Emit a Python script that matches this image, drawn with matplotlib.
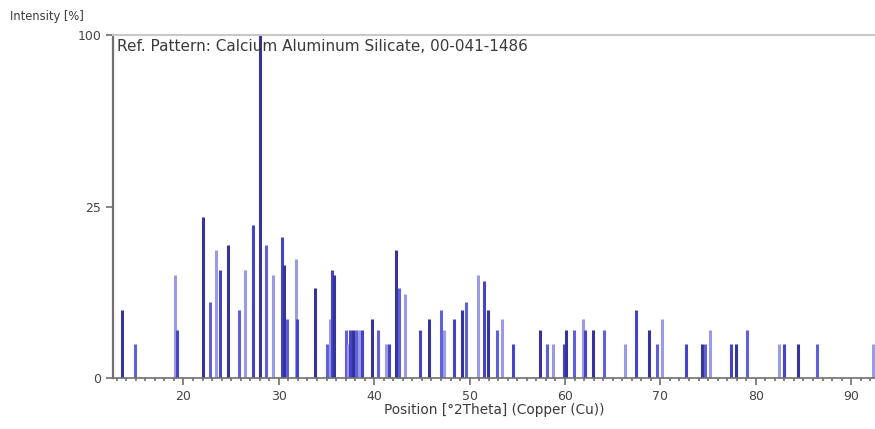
import numpy as np
import matplotlib
matplotlib.use('Agg')
import matplotlib.pyplot as plt
from matplotlib.ticker import FixedLocator, MultipleLocator

# stick pattern: position (deg 2Theta) and relative intensity (%)
two_theta = [13.57, 14.93, 19.11, 19.32, 22.0, 22.77, 23.4, 23.82, 24.72, 25.84,
             26.46, 27.34, 28.0, 28.66, 29.43, 30.3, 30.54, 30.9, 31.76, 31.94,
             33.75, 35.0, 35.35, 35.6, 35.77, 36.99, 37.25, 37.5, 37.8, 38.1,
             38.4, 38.7, 39.78, 40.37, 41.25, 41.6, 42.32, 42.57, 43.2, 44.76,
             45.7, 46.95, 47.27, 48.39, 49.19, 49.64, 50.93, 51.56, 51.97, 52.85,
             53.37, 54.59, 57.38, 58.14, 58.77, 59.89, 60.1, 60.97, 61.84, 62.12,
             62.95, 64.07, 66.34, 67.42, 68.78, 69.65, 70.17, 72.72, 74.4, 74.7,
             75.23, 77.42, 77.95, 79.1, 82.4, 83.0, 84.46, 86.37, 92.3]
intensity = [4, 1, 9, 2, 22, 5, 14, 10, 15, 4,
             10, 20, 100, 15, 9, 17, 11, 3, 12, 3,
             7, 1, 3, 10, 9, 2, 1, 2, 2, 2,
             2, 2, 3, 2, 1, 1, 14, 7, 6, 2,
             3, 4, 2, 3, 4, 5, 9, 8, 4, 2,
             3, 1, 2, 1, 1, 1, 2, 2, 3, 2,
             2, 2, 1, 4, 2, 1, 3, 1, 1, 1,
             2, 1, 1, 2, 1, 1, 1, 1, 1]

x_ticks = [20, 30, 40, 50, 60, 70, 80, 90]
y_ticks = [0, 25, 100]
title_text = 'Ref. Pattern: Calcium Aluminum Silicate, 00-041-1486'

shades = ['#34349c', '#6060d8', '#9a9ae6', '#4444c4']

fig = plt.figure(figsize=(8.75, 4.29), dpi=100)
ax = fig.add_axes([0.129, 0.118, 0.871, 0.800])

# intensity axis is square-root scaled
ax.set_yscale('function', functions=(np.sqrt, np.square))
for i in range(len(two_theta)):
    ax.vlines(two_theta[i], 0, intensity[i], color=shades[i % len(shades)], lw=2.2)

ax.set_xlim(12.6, 92.5)
ax.set_ylim(0, 100)
ax.yaxis.set_major_locator(FixedLocator(y_ticks))
ax.yaxis.set_minor_locator(FixedLocator([]))
ax.xaxis.set_major_locator(FixedLocator(x_ticks))
ax.xaxis.set_minor_locator(MultipleLocator(1))

ax.spines['right'].set_visible(False)
ax.spines['top'].set_color('#c8c8c8')
ax.spines['top'].set_linewidth(1.5)
ax.spines['left'].set_color('#707070')
ax.spines['left'].set_linewidth(1.6)
ax.spines['bottom'].set_color('#707070')
ax.spines['bottom'].set_linewidth(1.2)

ax.tick_params(axis='both', which='major', labelsize=9, colors='#707070',
               labelcolor='#444444', length=5, width=1.2)
ax.tick_params(axis='x', which='minor', length=2, width=1.2, colors='#707070')

ax.text(0.006, 0.988, title_text, transform=ax.transAxes, ha='left', va='top',
        fontsize=11, color='#3a3a3a')
fig.text(0.012, 0.962, 'Intensity [%]', ha='left', va='center', fontsize=8.3, color='#3a3a3a')
ax.set_xlabel('Position [°2Theta] (Copper (Cu))', fontsize=9.8, color='#3a3a3a', labelpad=0)

fig.savefig('out.png', dpi=100)
